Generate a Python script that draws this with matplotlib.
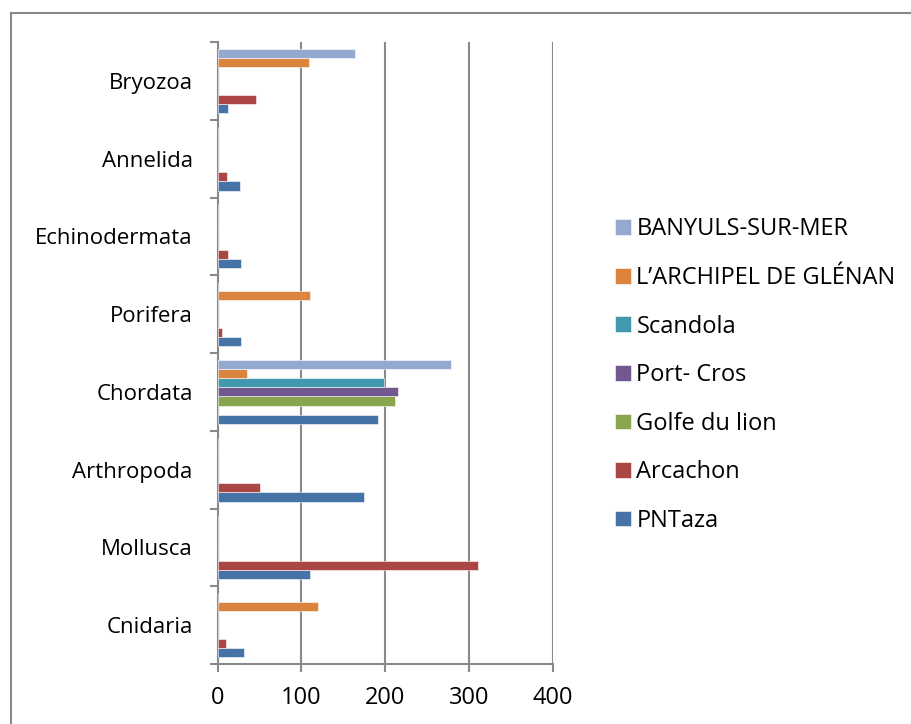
import numpy as np
import matplotlib.pyplot as plt
from matplotlib.lines import Line2D

plt.rcParams['font.family'] = ['Open Sans', 'DejaVu Sans']

categories = ["Cnidaria", "Mollusca", "Arthropoda", "Chordata",
              "Porifera", "Echinodermata", "Annelida", "Bryozoa"]
series = ["PNTaza", "Arcachon", "Golfe du lion", "Port- Cros",
          "Scandola", "L\u2019ARCHIPEL DE GL\u00c9NAN", "BANYULS-SUR-MER"]
colors = ["#4572A7", "#AA4643", "#89A54E", "#71588F",
          "#4198AF", "#DB843D", "#93A9CF"]

# one list per series, in category order (0 = no bar)
pntaza   = [31, 110, 175, 191, 28, 28, 27, 12]
arcachon = [10, 311, 50, 0, 5, 12, 11, 46]
golfe    = [0, 0, 0, 212, 0, 0, 0, 0]
portcros = [0, 0, 0, 215, 0, 0, 0, 0]
scandola = [0, 0, 0, 199, 0, 0, 0, 0]
glenan   = [120, 0, 0, 35, 110, 0, 0, 109]
banyuls  = [0, 0, 0, 278, 0, 0, 0, 164]
values = [pntaza, arcachon, golfe, portcros, scandola, glenan, banyuls]

W, H = 912, 724
fig = plt.figure(figsize=(W / 100, H / 100), dpi=100)
ax = fig.add_axes([217.7 / W, 1 - 664 / H, (552.7 - 217.7) / W, (664 - 42) / H])

y = np.arange(len(categories))
n = len(series)
slot = 1 / (n + 1.5)   # 150% gap width
for i, (name, vals, c) in enumerate(zip(series, values, colors)):
    pos = y - 0.5 + slot * (0.75 + i + 0.5)
    ax.barh(pos, vals, height=slot, color=c, edgecolor='white',
            linewidth=0.4, label=name, zorder=3)

grid_c = '#898989'
ax.set_xlim(0, 400)
ax.set_ylim(-0.5, len(categories) - 0.5)
ax.set_xticks([0, 100, 200, 300, 400])
ax.xaxis.grid(True, color=grid_c, linewidth=1.5, zorder=0)
for s in ['top', 'right']:
    ax.spines[s].set_visible(False)
for s in ['left', 'bottom']:
    ax.spines[s].set_color(grid_c)
    ax.spines[s].set_linewidth(1.5)

ax.set_yticks(y)
ax.set_yticklabels(categories)
ax.set_yticks(np.arange(-0.5, len(categories)), minor=True)
ax.tick_params(axis='y', which='major', length=0, pad=18, labelsize=16)
ax.tick_params(axis='y', which='minor', length=6, width=1.5, color=grid_c)
ax.tick_params(axis='x', length=6, width=1.5, color=grid_c, pad=10, labelsize=17)

h, l = ax.get_legend_handles_labels()
fig.legend(h[::-1], l[::-1], loc='upper left', bbox_to_anchor=(606 / W, 1 - 208 / H),
           frameon=False, fontsize=17, handlelength=0.64, handleheight=0.64,
           handletextpad=0.25, labelspacing=1.04, borderaxespad=0)

# chart area border (top and left edges)
fig.add_artist(Line2D([11 / W, 11 / W], [1 - 13 / H, 0], color=grid_c, lw=1.5))
fig.add_artist(Line2D([11 / W, 1], [1 - 13 / H, 1 - 13 / H], color=grid_c, lw=1.5))

fig.savefig("out.png", dpi=100)
